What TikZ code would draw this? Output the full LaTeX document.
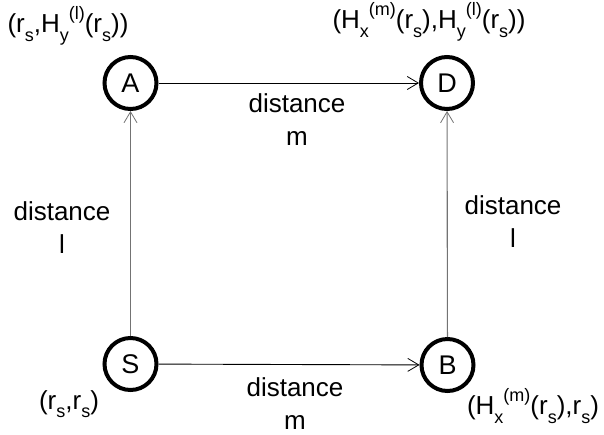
\documentclass[tikz,border=0pt]{standalone}
\usepackage{fontspec}
\setmainfont{Liberation Sans}
\usetikzlibrary{arrows.meta}
\newcommand\lo[1]{\raisebox{-0.32em}{\fontsize{18}{18}\selectfont #1}}
\newcommand\hi[1]{\raisebox{0.5em}{\fontsize{18}{18}\selectfont #1}}
\begin{document}
\begin{tikzpicture}[x=1pt,y=-1pt,
  every node/.style={font=\fontsize{26}{33}\selectfont},
  state/.style={circle,draw,line width=4pt,minimum size=52pt,inner sep=0pt,font=\fontsize{27}{27}\selectfont},
  txt/.style={align=center,inner sep=0pt},
  tip/.style={-{Straight Barb[length=11pt,width=13pt,line width=0.8pt]}},
  hconn/.style={tip,draw=black,line width=0.9pt},
  vconn/.style={tip,draw=black!55,line width=1.1pt}]
\useasboundingbox (0,0) rectangle (604,434);
\node[state] (A) at (130.5,83) {A};
\node[state] (D) at (447,83) {D};
\node[state] (S) at (130.5,364) {S};
\node[state] (B) at (447.5,365) {B};
\draw[hconn] (A) -- (D);
\draw[hconn] (S) -- (B);
\draw[vconn] (S) -- (A);
\draw[vconn] (B) -- (D);
\node[txt] (la) at (68,26) {(r\lo{s},H\lo{y}\hi{(l)}(r\lo{s}))};
\node[txt] (ld) at (429,22) {(H\lo{x}\hi{(m)}(r\lo{s}),H\lo{y}\hi{(l)}(r\lo{s}))};
\node[txt] (ls) at (69,404) {(r\lo{s},r\lo{s})};
\node[txt] (lb) at (533,406) {(H\lo{x}\hi{(m)}(r\lo{s}),r\lo{s})};
\node[txt] (dt) at (297,120) {distance\\m};
\node[txt] (db) at (295,404) {distance\\m};
\node[txt] (dl) at (62,228) {distance\\l};
\node[txt] (dr) at (513,222) {distance\\l};
\end{tikzpicture}
\end{document}
